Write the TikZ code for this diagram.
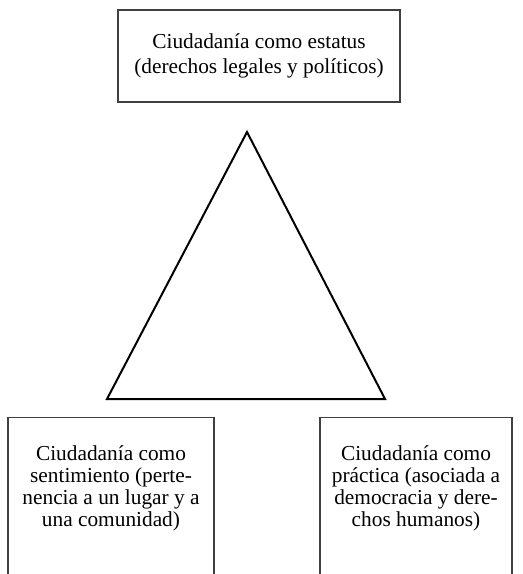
\documentclass[tikz,border=0pt]{standalone}
\usepackage{fontspec}
\setmainfont{Liberation Serif}
\usepackage{tikz}
\usetikzlibrary{calc}

\begin{document}
\begin{tikzpicture}[x=0.75pt, y=-0.75pt,
	box/.style={draw=black!75, line width=0.8pt, inner sep=0pt},
	boxtext/.style={align=center, font=\fontsize{16}{19}\selectfont},
	sidetext/.style={align=center, font=\fontsize{16}{16.5}\selectfont}]

\useasboundingbox (0,0) rectangle (522,574);
\clip (0,0) rectangle (522,574);

\node [box, minimum width=282*0.75pt, minimum height=92*0.75pt, boxtext]
	(estatus) at (259,56)
	{Ciudadanía como estatus\\(derechos legales y políticos)};

\node [box, minimum width=206*0.75pt, minimum height=200*0.75pt, anchor=north]
	(sentbox) at (111,417) {};
\node [sidetext] (sentimiento) at (111,488)
	{Ciudadanía como\\sentimiento (perte-\\nencia a un lugar y a\\una comunidad)};

\node [box, minimum width=192*0.75pt, minimum height=200*0.75pt, anchor=north]
	(pracbox) at (416,417) {};
\node [sidetext] (practica) at (416,488)
	{Ciudadanía como\\práctica (asociada a\\democracia y dere-\\chos humanos)};

\coordinate (apex) at (247,132);
\coordinate (left) at (107,399);
\coordinate (right) at (385,399);

\draw [line width=1.5pt, black, line join=miter]
	(apex) -- (left) -- (right) -- cycle;

\end{tikzpicture}
\end{document}
